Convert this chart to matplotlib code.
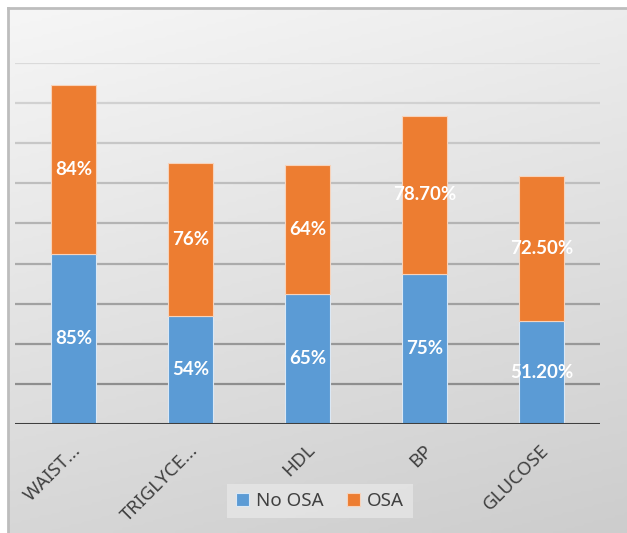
import matplotlib.pyplot as plt
import matplotlib.colors as mcolors
import matplotlib.transforms as mtrans
import numpy as np

# chart data
categories = ["WAIST...", "TRIGLYCE...", "HDL", "BP", "GLUCOSE"]
no_osa = [85, 54, 65, 75, 51.2]
osa = [84, 76, 64, 78.7, 72.5]
no_osa_labels = ["85%", "54%", "65%", "75%", "51.20%"]
osa_labels = ["84%", "76%", "64%", "78.70%", "72.50%"]
y_ticks = [20, 40, 60, 80, 100, 120, 140, 160, 180]

plt.rcParams['font.family'] = ['Noto Sans', 'DejaVu Sans']

W, H = 627, 533
fig = plt.figure(figsize=(W / 100, H / 100), dpi=100)
fig.patch.set_facecolor('white')

# gradient chart background
bg = fig.add_axes([8 / W, 0, 1 - 8 / W, 1 - 8 / H], zorder=0)
yy = np.linspace(0, 1, 200)[:, None]
xx = np.linspace(0, 1, 200)[None, :]
grad = 0.62 * yy + 0.19 * xx
cmap = mcolors.LinearSegmentedColormap.from_list('bg', ['#f6f6f6', '#cdcdcd'])
bg.imshow(grad, cmap=cmap, aspect='auto', extent=[0, 1, 0, 1], origin='upper', vmin=0, vmax=0.81)
bg.set_xticks([])
bg.set_yticks([])
for side in ['right', 'bottom']:
    bg.spines[side].set_visible(False)
for side in ['top', 'left']:
    bg.spines[side].set_color('#bdbdbd')
    bg.spines[side].set_linewidth(2)

ax = fig.add_axes([15 / W, (H - 424) / H, 585 / W, (424 - 63) / H], zorder=1)
ax.patch.set_alpha(0)
ax.set_ylim(0, 180)
ax.set_xlim(-0.5, len(categories) - 0.5)

# gridlines, lighter towards the top
light = np.array(mcolors.to_rgb('#dadada'))
dark = np.array(mcolors.to_rgb('#8e8e8e'))
for v in y_ticks:
    t = (v - 20) / 160
    ax.axhline(v, color=dark + (light - dark) * t, lw=1.6, zorder=1)

x = np.arange(len(categories))
b1 = ax.bar(x, no_osa, width=0.39, color='#5B9BD5', edgecolor='#dbe8f5', lw=0.8,
            label='No OSA', zorder=2)
b2 = ax.bar(x, osa, width=0.39, bottom=no_osa, color='#ED7D31', edgecolor='#f7d3bb', lw=0.8,
            label='OSA', zorder=2)
for cont, labs in [(b1, no_osa_labels), (b2, osa_labels)]:
    ax.bar_label(cont, labels=labs, label_type='center', color='white', fontsize=13.5,
                 fontweight='bold', family=['Lato', 'DejaVu Sans'])

ax.axhline(0, color='#3f3f3f', lw=2.2, zorder=3)
ax.set_yticks([])
ax.set_xticks(x)
ax.set_xticklabels(categories, rotation=45, ha='right', va='top', rotation_mode='anchor',
                   color='#404040', fontsize=13.5)
ax.tick_params(axis='x', length=0, pad=5)
shift = mtrans.ScaledTranslation(-2 / 100, -10 / 100, fig.dpi_scale_trans)
for lbl in ax.get_xticklabels():
    lbl.set_transform(lbl.get_transform() + shift)
for s in ax.spines.values():
    s.set_visible(False)

leg = fig.legend(loc='center', bbox_to_anchor=(320 / W, 1 - 501 / H), ncol=2, frameon=True,
                 fontsize=13.5, handlelength=0.7, handleheight=0.7, handletextpad=0.4,
                 columnspacing=1.2, borderpad=0.45, fancybox=False)
leg.get_frame().set_facecolor('#e6e6e6')
leg.get_frame().set_edgecolor('none')
for t in leg.get_texts():
    t.set_color('#404040')

fig.savefig('out.png', dpi=100)
